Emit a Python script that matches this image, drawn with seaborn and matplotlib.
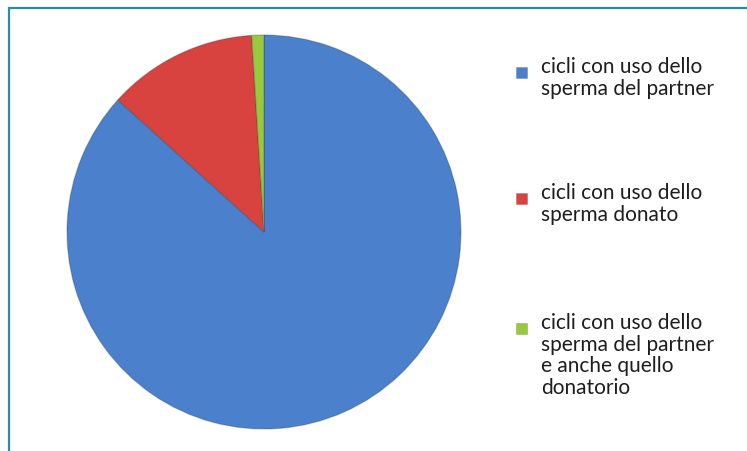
import matplotlib
matplotlib.use("Agg")
import matplotlib.pyplot as plt
from matplotlib.patches import Rectangle
import seaborn as sns

# Share of cycles by sperm source
labels = [
    "cicli con uso dello\nsperma del partner",
    "cicli con uso dello\nsperma donato",
    "cicli con uso dello\nsperma del partner\ne anche quello\ndonatorio",
]
shares = [86.7, 12.3, 1.0]
colors = ["#4a80cc", "#d8433f", "#98c93c"]

sns.set_theme(style="white")
plt.rcParams["font.family"] = ["Lato", "DejaVu Sans"]

W, H = 747, 452
fig = plt.figure(figsize=(W / 100, H / 100), dpi=100)
fig.patch.set_facecolor("white")

# Pie axes: centre (264, 233) px, radius 199 px
cx, cy, r = 264, 233, 199
ax = fig.add_axes([(cx - r) / W, (H - cy - r) / H, 2 * r / W, 2 * r / H])
wedges, _ = ax.pie(
    shares,
    colors=colors,
    startangle=90,
    counterclock=False,
    radius=1.0,
    wedgeprops=dict(linewidth=0.9, edgecolor="#2a2a2a40"),
)
ax.set_xlim(-1.01, 1.01)
ax.set_ylim(-1.01, 1.01)
ax.set_aspect("equal")
ax.axis("off")

# Legend entries on the right
entries_y = [57, 183, 313]  # top of first text line, px
for lab, col, ty in zip(labels, colors, entries_y):
    fig.text(541 / W, 1 - ty / H, lab, ha="left", va="top",
             fontsize=15, color="#1e1e1e", linespacing=1.1)
    sq = Rectangle((516 / W, 1 - (ty + 22) / H), 11 / W, 11 / H,
                   transform=fig.transFigure, facecolor=col,
                   edgecolor="#00000033", linewidth=0.5)
    fig.add_artist(sq)

# Frame around the chart area (open at right and bottom)
fig.add_artist(Rectangle((8.5 / W, -0.05), 1.2, 1 - 8.5 / H + 0.05,
                         transform=fig.transFigure, fill=False,
                         edgecolor="#2a8ab0", linewidth=1.6))

fig.savefig("out.png", dpi=100)
